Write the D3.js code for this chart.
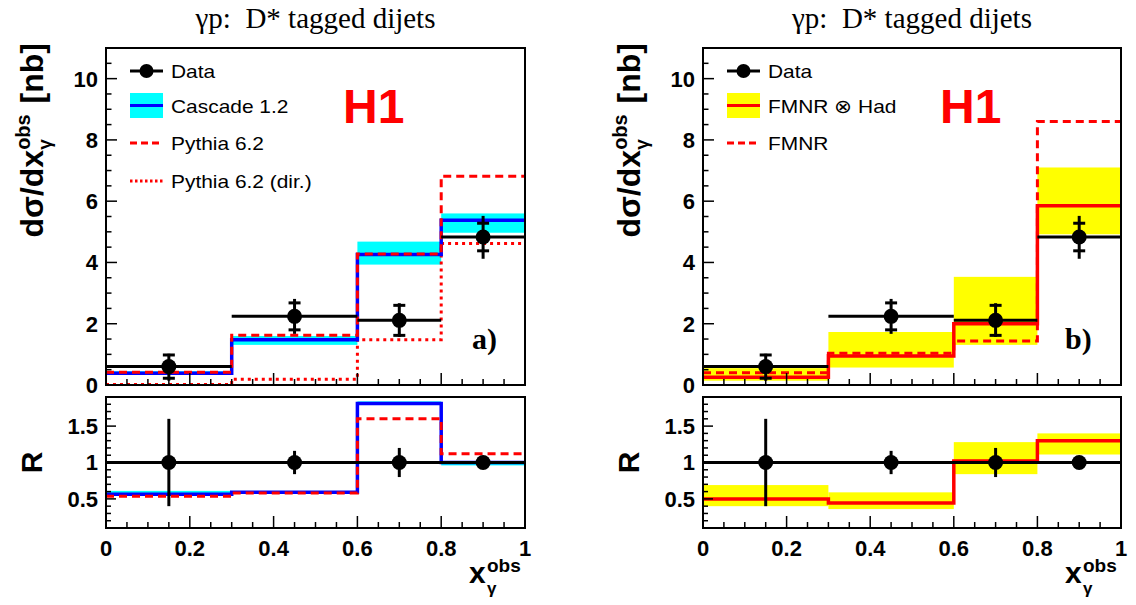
<!DOCTYPE html>
<html><head><meta charset="utf-8">
<script src="https://cdn.jsdelivr.net/npm/d3@7"></script>
<style>
body{margin:0;background:#fff}
svg{display:block}
text{font-family:"Liberation Sans",Arial,sans-serif}
</style>
</head><body>
<svg id="c" width="1136" height="605"></svg>
<script>
// ---- data ----
const binEdges=[0,0.3,0.6,0.8,1.0];
const binCenters=[0.15,0.45,0.7,0.9];
const dataXsec=[0.60,2.24,2.11,4.83];
const dataStat=[0.38,0.44,0.49,0.45];
const dataTotUp=[0.42,0.57,0.56,0.69];
const dataTotDn=[0.46,0.57,0.54,0.71];
const dataRatio=[1,1,1,1];
const dataRatioErr=[0.6,0.16,0.2,0.04];
const cascade=[0.38,1.48,4.26,5.38];
const cascadeLo=[0.33,1.31,3.93,4.97];
const cascadeHi=[0.45,1.60,4.68,5.60];
const pythia=[0.42,1.62,4.28,6.81];
const pythiaDir=[0.02,0.19,1.48,4.62];
const cascadeRatio=[0.565,0.59,1.81,1.0];
const cascadeRatioLo=[0.55,0.575,1.79,0.96];
const cascadeRatioHi=[0.61,0.605,1.84,1.02];
const pythiaRatio=[0.535,0.58,1.60,1.12];
const fmnrHad=[0.25,0.95,2.0,5.85];
const fmnrHadLo=[0.14,0.57,1.31,4.92];
const fmnrHadHi=[0.55,1.73,3.53,7.10];
const fmnr=[0.40,1.04,1.44,8.60];
const fmnrHadRatio=[0.50,0.445,1.02,1.30];
const fmnrHadRatioLo=[0.40,0.36,0.84,1.11];
const fmnrHadRatioHi=[0.69,0.59,1.28,1.40];
const xTicks=[0,0.2,0.4,0.6,0.8,1];
const xTickLabels=["0","0.2","0.4","0.6","0.8","1"];
const yTicksTop=[0,2,4,6,8,10];
const yTicksRatio=[0.5,1,1.5];
const yTickRatioLabels=["0.5","1","1.5"];
const titleText="γp:  D* tagged dijets";

const svg=d3.select("#c");
const RED="#ff0000", BLUE="#0000ff", CYAN="#00ffff", YEL="#ffff00";
const SERIF="'Liberation Serif','Times New Roman',serif";

function stepPts(vals){
  const p=[];
  vals.forEach((v,i)=>{p.push([binEdges[i],v]);p.push([binEdges[i+1],v]);});
  return p;
}
function drawStep(g,x,y,vals,color,w,dash){
  const line=d3.line().x(d=>x(d[0])).y(d=>y(d[1]));
  const p=g.append("path").attr("d",line(stepPts(vals))).attr("fill","none")
    .attr("stroke",color).attr("stroke-width",w);
  if(dash) p.attr("stroke-dasharray",dash);
}
function drawBand(g,x,y,lo,hi,color){
  g.selectAll(null).data(lo).enter().append("rect")
   .attr("x",(d,i)=>x(binEdges[i])).attr("width",(d,i)=>x(binEdges[i+1])-x(binEdges[i]))
   .attr("y",(d,i)=>y(hi[i])).attr("height",(d,i)=>y(lo[i])-y(hi[i]))
   .attr("fill",color);
}
function frame(g,x,y){
  const [x0,x1]=x.range(); const [y0,y1]=y.range();
  g.append("rect").attr("x",x0).attr("y",y1).attr("width",x1-x0).attr("height",y0-y1)
   .attr("fill","none").attr("stroke","#000").attr("stroke-width",2);
}
function xTickMarks(g,x,y){
  const yb=y.range()[0];
  d3.range(0,1.0001,0.05).forEach(v=>{
    const major=Math.abs(v/0.2-Math.round(v/0.2))<1e-6;
    g.append("line").attr("x1",x(v)).attr("x2",x(v)).attr("y1",yb).attr("y2",yb-(major?12:6))
     .attr("stroke","#000").attr("stroke-width",1.5);
  });
}
function yTickMarks(g,x,y,start,stop,step,majorStep,ml,mn){
  const xl=x.range()[0];
  d3.range(start,stop+1e-6,step).forEach(v=>{
    const major=Math.abs(v/majorStep-Math.round(v/majorStep))<1e-6;
    g.append("line").attr("x1",xl).attr("x2",xl+(major?ml:mn)).attr("y1",y(v)).attr("y2",y(v))
     .attr("stroke","#000").attr("stroke-width",1.5);
  });
}
function dataTop(g,x,y){
  dataXsec.forEach((v,i)=>{
    g.append("line").attr("x1",x(binEdges[i])).attr("x2",x(binEdges[i+1])).attr("y1",y(v)).attr("y2",y(v))
     .attr("stroke","#000").attr("stroke-width",3);
    const cx=x(binCenters[i]);
    g.append("line").attr("x1",cx).attr("x2",cx).attr("y1",y(v+dataTotUp[i])).attr("y2",y(v-dataTotDn[i]))
     .attr("stroke","#000").attr("stroke-width",3);
    [v+dataStat[i],v-dataStat[i]].forEach(s=>{
      g.append("line").attr("x1",cx-6).attr("x2",cx+6).attr("y1",y(s)).attr("y2",y(s))
       .attr("stroke","#000").attr("stroke-width",3);
    });
    g.append("circle").attr("cx",cx).attr("cy",y(v)).attr("r",7.5).attr("fill","#000");
  });
}
function dataRatioDraw(g,x,y){
  g.append("line").attr("x1",x(0)).attr("x2",x(1)).attr("y1",y(1)).attr("y2",y(1))
   .attr("stroke","#000").attr("stroke-width",3);
  dataRatio.forEach((v,i)=>{
    const cx=x(binCenters[i]);
    g.append("line").attr("x1",cx).attr("x2",cx).attr("y1",y(v+dataRatioErr[i])).attr("y2",y(v-dataRatioErr[i]))
     .attr("stroke","#000").attr("stroke-width",3);
    g.append("circle").attr("cx",cx).attr("cy",y(v)).attr("r",7.5).attr("fill","#000");
  });
}
function axesLabels(g,x,yT,yR,x0){
  yTicksTop.forEach(v=>{
    g.append("text").attr("x",x0-8).attr("y",yT(v)).attr("dy","0.36em").attr("text-anchor","end")
     .attr("font-weight","bold").attr("font-size",22).text(v);
  });
  yTicksRatio.forEach((v,i)=>{
    g.append("text").attr("x",x0-8).attr("y",yR(v)).attr("dy","0.36em").attr("text-anchor","end")
     .attr("font-weight","bold").attr("font-size",22).text(yTickRatioLabels[i]);
  });
  xTicks.forEach((v,i)=>{
    g.append("text").attr("x",x(v)).attr("y",548).attr("dy","0.36em").attr("text-anchor","middle")
     .attr("font-weight","bold").attr("font-size",22).text(xTickLabels[i]);
  });
  // y title
  const yt=g.append("g").attr("transform",`translate(${x0-63},43) rotate(-90)`);
  const t1=yt.append("text").attr("font-weight","bold").attr("font-size",32).attr("y",0).text("dσ/dx");
  const t2=yt.append("text").attr("font-weight","bold").attr("font-size",20).attr("y",-13).text("obs");
  const t3=yt.append("text").attr("font-weight","bold").attr("font-size",19).attr("y",8).text("γ");
  const t4=yt.append("text").attr("font-weight","bold").attr("font-size",32).attr("y",0).style("white-space","pre").text(" [nb]");
  const w1=t1.node().getComputedTextLength(), w2=t2.node().getComputedTextLength(), w4=t4.node().getComputedTextLength();
  let end=0;
  t4.attr("x",end-w4); end-=w4;
  t2.attr("x",end-w2-2); t3.attr("x",end-w2-2); end-=w2+2;
  t1.attr("x",end-w1);
  // R
  g.append("text").attr("transform",`translate(${x0-64},${yR(1)}) rotate(-90)`).attr("text-anchor","middle")
   .attr("font-weight","bold").attr("font-size",30).text("R");
  // x title
  const xr=x.range()[1];
  g.append("text").attr("x",xr-56).attr("y",583).attr("font-weight","bold").attr("font-size",30).text("x");
  g.append("text").attr("x",xr-38).attr("y",572).attr("font-weight","bold").attr("font-size",19).text("obs");
  g.append("text").attr("x",xr-38).attr("y",594).attr("font-weight","bold").attr("font-size",17).text("γ");
  // title
  g.append("text").attr("x",(x0+xr)/2).attr("y",28).attr("text-anchor","middle")
   .style("font-family",SERIF).attr("font-size",29)
   .style("white-space","pre").text(titleText);
}
function legendDataRow(g,lx,ly){
  g.append("line").attr("x1",lx).attr("x2",lx+33).attr("y1",ly).attr("y2",ly).attr("stroke","#000").attr("stroke-width",3);
  g.append("circle").attr("cx",lx+16.5).attr("cy",ly).attr("r",7).attr("fill","#000");
}
function legendText(g,lx,ly,s){
  const t=g.append("text").attr("x",lx+41).attr("y",ly).attr("dy","0.36em").attr("font-size",18.5).text(s);
  const w=t.node().getComputedTextLength();
  t.attr("textLength",w*1.13).attr("lengthAdjust","spacingAndGlyphs");
}

function panel(x0,x1,which){
  const g=svg.append("g");
  const x=d3.scaleLinear().domain([0,1]).range([x0,x1]);
  const yT=d3.scaleLinear().domain([0,11]).range([385,48]);
  const yR=d3.scaleLinear().domain([0.1,1.9]).range([528,397]);
  const gt=g.append("g"), gr=g.append("g");
  if(which==="a"){
    drawBand(gt,x,yT,cascadeLo,cascadeHi,CYAN);
    drawStep(gt,x,yT,pythiaDir,RED,3,"3,4");
    drawStep(gt,x,yT,cascade,BLUE,3.5);
    drawStep(gt,x,yT,pythia,RED,3,"8,5");
    drawBand(gr,x,yR,cascadeRatioLo,cascadeRatioHi,CYAN);
    drawStep(gr,x,yR,cascadeRatio,BLUE,3.5);
    drawStep(gr,x,yR,pythiaRatio,RED,3,"8,5");
  } else {
    drawBand(gt,x,yT,fmnrHadLo,fmnrHadHi,YEL);
    drawStep(gt,x,yT,fmnr,RED,3,"8,5");
    drawStep(gt,x,yT,fmnrHad,RED,3.5);
    drawBand(gr,x,yR,fmnrHadRatioLo,fmnrHadRatioHi,YEL);
    drawStep(gr,x,yR,fmnrHadRatio,RED,3.5);
  }
  dataTop(gt,x,yT);
  dataRatioDraw(gr,x,yR);
  xTickMarks(gt,x,yT); xTickMarks(gr,x,yR);
  yTickMarks(gt,x,yT,0,11,0.5,2,11,5.5);
  yTickMarks(gr,x,yR,0.1,1.9,0.1,0.5,10,5);
  frame(gt,x,yT); frame(gr,x,yR);
  axesLabels(g,x,yT,yR,x0);
  // legend
  const lx=x0+24;
  legendDataRow(g,lx,71); legendText(g,lx,71,"Data");
  if(which==="a"){
    g.append("rect").attr("x",lx).attr("y",93).attr("width",33).attr("height",25).attr("fill",CYAN);
    g.append("line").attr("x1",lx).attr("x2",lx+33).attr("y1",105.5).attr("y2",105.5).attr("stroke",BLUE).attr("stroke-width",3);
    legendText(g,lx,106,"Cascade 1.2");
    g.append("line").attr("x1",lx).attr("x2",lx+33).attr("y1",143).attr("y2",143).attr("stroke",RED).attr("stroke-width",3).attr("stroke-dasharray","7,4");
    legendText(g,lx,143,"Pythia 6.2");
    g.append("line").attr("x1",lx).attr("x2",lx+33).attr("y1",181).attr("y2",181).attr("stroke",RED).attr("stroke-width",3).attr("stroke-dasharray","2.5,2.5");
    legendText(g,lx,181,"Pythia 6.2 (dir.)");
  } else {
    g.append("rect").attr("x",lx).attr("y",93).attr("width",33).attr("height",25).attr("fill",YEL);
    g.append("line").attr("x1",lx).attr("x2",lx+33).attr("y1",105.5).attr("y2",105.5).attr("stroke",RED).attr("stroke-width",3);
    legendText(g,lx,106,"FMNR ⊗ Had");
    g.append("line").attr("x1",lx).attr("x2",lx+33).attr("y1",143).attr("y2",143).attr("stroke",RED).attr("stroke-width",3).attr("stroke-dasharray","7,4");
    legendText(g,lx,143,"FMNR");
  }
  g.append("text").attr("x",x0+237).attr("y",123).attr("font-weight","bold")
   .attr("font-size",48).attr("fill",RED).text("H1");
  g.append("text").attr("x",x0+(which==="a"?366:362)).attr("y",349).attr("font-weight","bold")
   .style("font-family",SERIF).attr("font-size",30).text(which+")");
}
panel(106,525,"a");
panel(703,1121,"b");
</script>
</body></html>
